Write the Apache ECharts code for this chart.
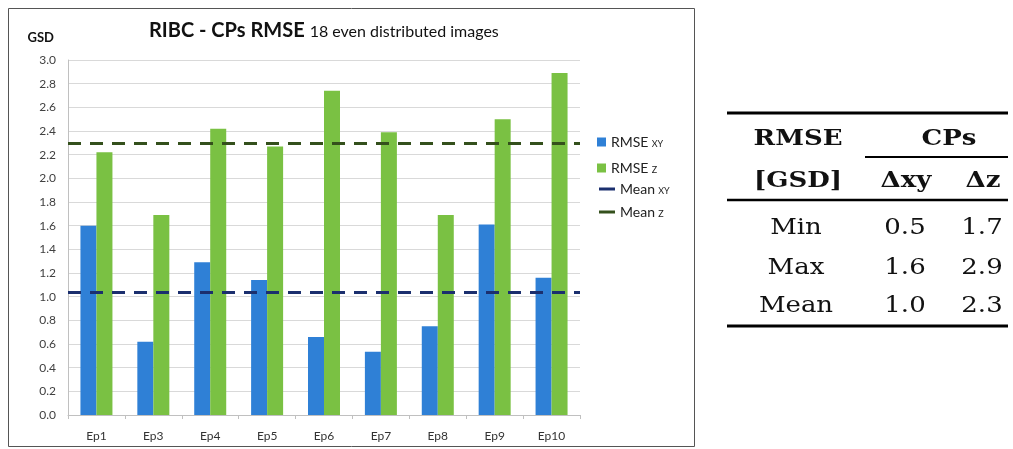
<!DOCTYPE html>
<html>
<head>
<meta charset="utf-8">
<script src="https://cdn.jsdelivr.net/npm/echarts@6/dist/echarts.min.js"></script>
<style>
  html, body { margin: 0; padding: 0; background: #fff; }
  #main { width: 1013px; height: 449px; }
</style>
</head>
<body>
<div id="main"></div>
<script>
// chart data
var episodes = ['Ep1', 'Ep3', 'Ep4', 'Ep5', 'Ep6', 'Ep7', 'Ep8', 'Ep9', 'Ep10'];
var rmseXY = [1.60, 0.62, 1.29, 1.14, 0.66, 0.535, 0.75, 1.61, 1.16];
var rmseZ = [2.22, 1.69, 2.42, 2.27, 2.74, 2.39, 1.69, 2.50, 2.89];
var meanXY = 1.04;
var meanZ = 2.30;

// table data
var statNames = ['Min', 'Max', 'Mean'];
var statXY = [0.5, 1.6, 1.0];
var statZ = [1.7, 2.9, 2.3];

var myChart = echarts.init(document.getElementById('main'));

var serif = 'DejaVu Serif';
var sx = 1.13; // table text is wide in the reference

function cell(text, x, y, bold) {
  return {
    type: 'text',
    x: x,
    y: y,
    scaleX: sx,
    style: {
      text: text,
      textAlign: 'center',
      textVerticalAlign: 'middle',
      font: (bold ? 'bold ' : '') + '23px "' + serif + '"',
      fill: '#111'
    }
  };
}

function hline(x1, x2, y, w) {
  return {
    type: 'line',
    shape: {x1: x1, y1: y, x2: x2, y2: y},
    style: {stroke: '#000', lineWidth: w}
  };
}

var tableItems = [
  hline(727, 1008, 113, 3),
  hline(865, 1008, 157, 2),
  hline(727, 1008, 200, 2.5),
  hline(727, 1008, 326, 3),
  cell('RMSE', 798, 139, true),
  cell('[GSD]', 798, 181, true),
  cell('CPs', 949, 139, true),
  cell('Δxy', 906, 181, true),
  cell('Δz', 983, 181, true)
];
var rowY = [228, 268, 306];
statNames.forEach(function (n, i) {
  tableItems.push(cell(n, 796, rowY[i], false));
  tableItems.push(cell(statXY[i].toFixed(1), 905, rowY[i], false));
  tableItems.push(cell(statZ[i].toFixed(1), 982, rowY[i], false));
});

function legendFmt(name) {
  var p = name.split(' ');
  return '{a|' + p[0] + '} {b|' + p[1] + '}';
}
var legendText = {
  color: '#222',
  rich: {
    a: {fontFamily: 'Lato', fontSize: 14, color: '#222'},
    b: {fontFamily: 'Lato', fontSize: 9, color: '#222', padding: [4, 0, 0, 0]}
  }
};

myChart.setOption({
  backgroundColor: '#fff',
  animation: false,
  title: {
    text: '{a|RIBC - CPs RMSE} {b|18 even distributed images}',
    left: 144,
    top: 16,
    textStyle: {
      rich: {
        a: {fontFamily: 'Lato', fontSize: 20, fontWeight: 'bold', color: '#111'},
        b: {fontFamily: 'Lato', fontSize: 16, fontWeight: 'normal', color: '#111', padding: [2, 0, 0, 0]}
      }
    }
  },
  legend: [
    {
      orient: 'vertical',
      left: 592,
      top: 130,
      itemWidth: 9,
      itemHeight: 9,
      itemGap: 12,
      icon: 'rect',
      data: ['RMSE XY', 'RMSE Z'],
      formatter: legendFmt,
      textStyle: legendText
    },
    {
      orient: 'vertical',
      left: 594,
      top: 177,
      itemWidth: 16,
      itemHeight: 3,
      itemGap: 9,
      icon: 'rect',
      itemStyle: {borderWidth: 0},
      data: ['Mean XY', 'Mean Z'],
      formatter: legendFmt,
      textStyle: legendText
    }
  ],
  grid: {left: 68, right: 433, top: 60, bottom: 34},
  xAxis: {
    type: 'category',
    data: episodes,
    axisLine: {lineStyle: {color: '#c0c0c0'}},
    axisTick: {show: true, length: 4, lineStyle: {color: '#c0c0c0'}},
    axisLabel: {fontFamily: 'Lato', fontSize: 12, color: '#333', margin: 15}
  },
  yAxis: {
    type: 'value',
    min: 0,
    max: 3,
    interval: 0.2,
    name: 'GSD',
    nameLocation: 'end',
    nameGap: 16,
    nameTextStyle: {
      fontFamily: 'Lato', fontSize: 13, fontWeight: 'bold', color: '#111',
      align: 'right', padding: [0, 14, 0, 0]
    },
    axisLine: {show: true, lineStyle: {color: '#c0c0c0'}},
    axisTick: {show: false},
    splitLine: {lineStyle: {color: '#d9d9d9'}},
    axisLabel: {
      fontFamily: 'Lato', fontSize: 12, color: '#404040', margin: 12,
      formatter: function (v) { return v.toFixed(1); }
    }
  },
  series: [
    {
      name: 'RMSE XY',
      type: 'bar',
      data: rmseXY,
      barWidth: 16,
      barGap: '0%',
      itemStyle: {color: '#2f80d6'}
    },
    {
      name: 'RMSE Z',
      type: 'bar',
      data: rmseZ,
      barWidth: 16,
      itemStyle: {color: '#7ac143'}
    },
    {
      name: 'Mean XY',
      type: 'line',
      data: [],
      itemStyle: {color: '#1b2f6e'},
      lineStyle: {color: '#1b2f6e'},
      markLine: {
        silent: true,
        symbol: 'none',
        label: {show: false},
        lineStyle: {color: '#1b2f6e', width: 3, type: [13, 9]},
        data: [{yAxis: meanXY}]
      }
    },
    {
      name: 'Mean Z',
      type: 'line',
      data: [],
      itemStyle: {color: '#34501c'},
      lineStyle: {color: '#34501c'},
      markLine: {
        silent: true,
        symbol: 'none',
        label: {show: false},
        lineStyle: {color: '#34501c', width: 3, type: [13, 9]},
        data: [{yAxis: meanZ}]
      }
    }
  ],
  graphic: [
    {
      type: 'rect',
      shape: {x: 8.5, y: 8.5, width: 686, height: 438},
      style: {fill: 'none', stroke: '#555', lineWidth: 1},
      silent: true
    }
  ].concat(tableItems)
});

window.addEventListener('resize', function () {
  myChart.resize();
});
</script>
</body>
</html>
